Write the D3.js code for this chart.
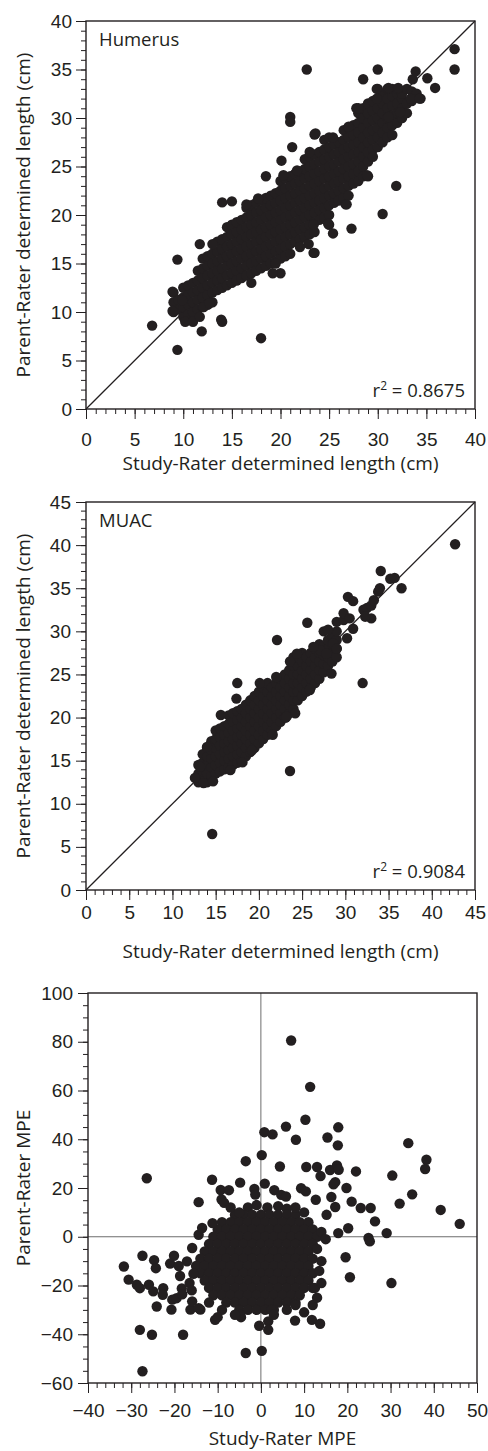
<!DOCTYPE html>
<html>
<head>
<meta charset="utf-8">
<script src="https://cdn.jsdelivr.net/npm/d3@7"></script>
<style>
  body { margin: 0; background: #fff; }
  svg { display: block; }
</style>
</head>
<body>
<div id="chart"></div>
<script>
// tick labels for each panel
const humerusTicks = [0, 5, 10, 15, 20, 25, 30, 35, 40];
const muacTicks = [0, 5, 10, 15, 20, 25, 30, 35, 40, 45];
const mpeXTicks = [-40, -30, -20, -10, 0, 10, 20, 30, 40, 50];
const mpeYTicks = [-60, -40, -20, 0, 20, 40, 60, 80, 100];

// Humerus: [study-rater, parent-rater] in cm
const humerusPoints = [
  [9,10],[9,11],[9,12],
  [9.5,10.25],[9.5,11.25],
  [10,9.5],[10,10.5],[10,11.5],[10,12.5],
  [10.5,9.75],[10.5,10.75],[10.5,11.75],[10.5,12.75],
  [11,10],[11,11],[11,12],[11,13],
  [11.5,10.25],[11.5,11.25],[11.5,12.25],[11.5,13.25],[11.5,14.25],
  [12,10.5],[12,11.5],[12,12.5],[12,13.5],[12,14.5],[12,15.5],
  [12.5,10.75],[12.5,11.75],[12.5,12.75],[12.5,13.75],[12.5,14.75],[12.5,15.75],
  [13,11],[13,12],[13,13],[13,14],[13,15],[13,16],
  [13.5,12.25],[13.5,13.25],[13.5,14.25],[13.5,15.25],[13.5,16.25],[13.5,17.25],
  [14,12.5],[14,13.5],[14,14.5],[14,15.5],[14,16.5],[14,17.5],
  [14.5,12.75],[14.5,13.75],[14.5,14.75],[14.5,15.75],[14.5,16.75],[14.5,17.75],[14.5,18.75],
  [15,13],[15,14],[15,15],[15,16],[15,17],[15,18],[15,19],
  [15.5,13.25],[15.5,14.25],[15.5,15.25],[15.5,16.25],[15.5,17.25],[15.5,18.25],[15.5,19.25],
  [16,13.5],[16,14.5],[16,15.5],[16,16.5],[16,17.5],[16,18.5],[16,19.5],
  [16.5,13.75],[16.5,14.75],[16.5,15.75],[16.5,16.75],[16.5,17.75],[16.5,18.75],[16.5,19.75],[16.5,20.75],
  [17,14],[17,15],[17,16],[17,17],[17,18],[17,19],[17,20],[17,21],
  [17.5,14.25],[17.5,15.25],[17.5,16.25],[17.5,17.25],[17.5,18.25],[17.5,19.25],[17.5,20.25],[17.5,21.25],
  [18,14.5],[18,15.5],[18,16.5],[18,17.5],[18,18.5],[18,19.5],[18,20.5],[18,21.5],
  [18.5,14.75],[18.5,15.75],[18.5,16.75],[18.5,17.75],[18.5,18.75],[18.5,19.75],[18.5,20.75],[18.5,21.75],
  [19,15],[19,16],[19,17],[19,18],[19,19],[19,20],[19,21],[19,22],
  [19.5,15.25],[19.5,16.25],[19.5,17.25],[19.5,18.25],[19.5,19.25],[19.5,20.25],[19.5,21.25],[19.5,22.25],
  [20,15.5],[20,16.5],[20,17.5],[20,18.5],[20,19.5],[20,20.5],[20,21.5],[20,22.5],[20,23.5],
  [20.5,15.75],[20.5,16.75],[20.5,17.75],[20.5,18.75],[20.5,19.75],[20.5,20.75],[20.5,21.75],[20.5,22.75],[20.5,23.75],
  [21,16],[21,17],[21,18],[21,19],[21,20],[21,21],[21,22],[21,23],[21,24],
  [21.5,17.25],[21.5,18.25],[21.5,19.25],[21.5,20.25],[21.5,21.25],[21.5,22.25],[21.5,23.25],[21.5,24.25],
  [22,17.5],[22,18.5],[22,19.5],[22,20.5],[22,21.5],[22,22.5],[22,23.5],[22,24.5],
  [22.5,17.75],[22.5,18.75],[22.5,19.75],[22.5,20.75],[22.5,21.75],[22.5,22.75],[22.5,23.75],[22.5,24.75],[22.5,25.75],
  [23,18],[23,19],[23,20],[23,21],[23,22],[23,23],[23,24],[23,25],[23,26],
  [23.5,18.25],[23.5,19.25],[23.5,20.25],[23.5,21.25],[23.5,22.25],[23.5,23.25],[23.5,24.25],[23.5,25.25],[23.5,26.25],
  [24,19.5],[24,20.5],[24,21.5],[24,22.5],[24,23.5],[24,24.5],[24,25.5],[24,26.5],
  [24.5,19.75],[24.5,20.75],[24.5,21.75],[24.5,22.75],[24.5,23.75],[24.5,24.75],[24.5,25.75],[24.5,26.75],[24.5,27.75],
  [25,20],[25,21],[25,22],[25,23],[25,24],[25,25],[25,26],[25,27],[25,28],
  [25.5,21.25],[25.5,22.25],[25.5,23.25],[25.5,24.25],[25.5,25.25],[25.5,26.25],[25.5,27.25],
  [26,21.5],[26,22.5],[26,23.5],[26,24.5],[26,25.5],[26,26.5],[26,27.5],
  [26.5,21.75],[26.5,22.75],[26.5,23.75],[26.5,24.75],[26.5,25.75],[26.5,26.75],[26.5,27.75],[26.5,28.75],
  [27,22],[27,23],[27,24],[27,25],[27,26],[27,27],[27,28],[27,29],
  [27.5,23.25],[27.5,24.25],[27.5,25.25],[27.5,26.25],[27.5,27.25],[27.5,28.25],[27.5,29.25],
  [28,23.5],[28,24.5],[28,25.5],[28,26.5],[28,27.5],[28,28.5],[28,29.5],[28,30.5],
  [28.5,24],[28.5,25],[28.5,26],[28.5,27],[28.5,28],[28.5,29],[28.5,30],[28.5,31],
  [29,25.5],[29,26.5],[29,27.5],[29,28.5],[29,29.5],[29,30.5],[29,31.5],
  [29.5,26.75],[29.5,27.75],[29.5,28.75],[29.5,29.75],[29.5,30.75],[29.5,31.75],
  [30,27],[30,28],[30,29],[30,30],[30,31],[30,32],[30,33],
  [30.5,27.5],[30.5,28.5],[30.5,29.5],[30.5,30.5],[30.5,31.5],[30.5,32.5],
  [31,28],[31,29],[31,30],[31,31],[31,32],[31,33],
  [31.5,28.25],[31.5,29.25],[31.5,30.25],[31.5,31.25],[31.5,32.25],[31.5,33],
  [32,29.5],[32,30.5],[32,31.5],[32,32.5],[32,33],
  [32.5,30],[32.5,31],[32.5,32],[32.5,32.5],
  [33,30.5],[33,31.5],[33,33],[33.5,31.75],[33.5,32.75],[34,32.5],
  // scattered ones
  [6.8,8.6],[9.4,6.1],[9.4,15.4],[11.9,8],[14,9],[18,7.3],[10.2,9],[11,9],[11.7,9.5],
  [13.9,9.2],[8.9,12.1],[8.9,10.1],[11.7,17],[13,17],[14,21.3],[16.5,21.1],[15,21.4],
  [17.7,21.7],[18.5,24],[20.1,25.6],[21,30.1],[21,29.6],[21.2,27],[22.7,35],[23.5,28.3],
  [25.4,28],[27.8,31],[28.5,34],[30,35],[29.9,33],[31.1,33.1],[32.1,33.1],[33.4,32],
  [33.6,34],[33.9,34.8],[34.4,32],[35.1,34.1],[35.9,33.1],[37.9,37.1],[37.9,35],
  [31.1,30.1],[32.3,30.6],[29.5,26],[29,24],[30.5,20.1],[31.9,23],[26.7,21.1],[23.4,19],
  [25,19],[25.4,18.1],[27.3,18.6],[23.4,16.1],[22.9,17],[20,14],[19.2,14],[19.5,15],
  [17,13],[22,16.7],[23.5,16.1],[12.1,10.5],[12.7,10.9],[9.9,11.2],[24.9,19.1],
  [26.8,21.1],[28.9,24.1],[34.3,32],[20.3,24.1],[21.7,24.6],[23,26.5],[23.6,28.4],
  [27,29.1],[28,31],[29.9,32]
];

// MUAC: [study-rater, parent-rater] in cm
const muacPoints = [
  [13,12.5],[13,13.5],[13,14.5],
  [13.5,12.75],[13.5,13.75],[13.5,14.75],[13.5,15.75],
  [14,12.5],[14,13.5],[14,14.5],[14,15.5],[14,16.5],
  [14.5,13.25],[14.5,14.25],[14.5,15.25],[14.5,16.25],[14.5,17.25],
  [15,13.5],[15,14.5],[15,15.5],[15,16.5],[15,17.5],[15,18.5],
  [15.5,13.75],[15.5,14.75],[15.5,15.75],[15.5,16.75],[15.5,17.75],[15.5,18.75],
  [16,14],[16,15],[16,16],[16,17],[16,18],[16,19],
  [16.5,14.25],[16.5,15.25],[16.5,16.25],[16.5,17.25],[16.5,18.25],[16.5,19.25],[16.5,20.25],
  [17,14.5],[17,15.5],[17,16.5],[17,17.5],[17,18.5],[17,19.5],[17,20.5],
  [17.5,14.75],[17.5,15.75],[17.5,16.75],[17.5,17.75],[17.5,18.75],[17.5,19.75],[17.5,20.75],
  [18,15],[18,16],[18,17],[18,18],[18,19],[18,20],[18,21],
  [18.5,15.5],[18.5,16.5],[18.5,17.5],[18.5,18.5],[18.5,19.5],[18.5,20.5],[18.5,21.5],
  [19,16],[19,17],[19,18],[19,19],[19,20],[19,21],[19,22],
  [19.5,16.5],[19.5,17.5],[19.5,18.5],[19.5,19.5],[19.5,20.5],[19.5,21.5],[19.5,22.5],
  [20,17],[20,18],[20,19],[20,20],[20,21],[20,22],[20,23],
  [20.5,17.5],[20.5,18.5],[20.5,19.5],[20.5,20.5],[20.5,21.5],[20.5,22.5],[20.5,23.5],
  [21,18],[21,19],[21,20],[21,21],[21,22],[21,23],[21,24],
  [21.5,18.5],[21.5,19.5],[21.5,20.5],[21.5,21.5],[21.5,22.5],[21.5,23.5],
  [22,19],[22,20],[22,21],[22,22],[22,23],[22,24],
  [22.5,19.5],[22.5,20.5],[22.5,21.5],[22.5,22.5],[22.5,23.5],[22.5,24.5],
  [23,20],[23,21],[23,22],[23,23],[23,24],[23,25],
  [23.5,20.5],[23.5,21.5],[23.5,22.5],[23.5,23.5],[23.5,24.5],[23.5,25.5],
  [24,21],[24,22],[24,23],[24,24],[24,25],[24,26],[24,27],
  [24.5,22],[24.5,23],[24.5,24],[24.5,25],[24.5,26],[24.5,27],
  [25,22.5],[25,23.5],[25,24.5],[25,25.5],[25,26.5],[25,27.5],
  [25.5,23],[25.5,24],[25.5,25],[25.5,26],[25.5,27],
  [26,23.5],[26,24.5],[26,25.5],[26,26.5],[26,27.5],
  [26.5,24],[26.5,25],[26.5,26],[26.5,27],[26.5,28],
  [27,24.5],[27,25.5],[27,26.5],[27,27.5],[27,28.5],
  [27.5,25.25],[27.5,26.25],[27.5,27.25],[27.5,28.25],
  [28,26],[28,27],[28,28],[28,29],
  [28.5,26.5],[28.5,27.5],[28.5,28.5],[28.5,29.5],
  [29,27],[29,28],[29,29],[29,30],
  // scattered ones
  [12.6,13],[13.6,12.4],[14.7,12.6],[14.6,6.5],[23.6,13.8],[21.6,18],[23.1,20],[24.2,20.5],
  [19.2,16.2],[16.7,13.9],[18.1,14.8],[15.6,20.3],[17.5,24],[22.1,29],[25.6,31],[28.4,25.1],
  [32,24],[23.6,26.5],[27.1,27.8],[27.8,27.4],[28.6,28.6],[29,28],[30.2,29.2],[27.5,30],
  [28,30.2],[29,31.1],[29.8,31.3],[29.8,32.1],[30.5,31.5],[30.9,30.3],[30.3,34],[30.9,33.5],
  [32.1,32.5],[32.5,32.7],[33,33],[33.3,33.6],[33,31.5],[32.3,31.7],[33.8,34.6],[34,35],
  [34.1,37],[35.2,36.1],[35.7,36.2],[36.5,35],[42.7,40.1],[20.1,24],[22,24.7],[24.4,27.4],
  [26.3,28.2],[25.9,23.2],[23.2,20.1],[17.4,22.2],[13.2,14.3],[14,16.6]
];

// MPE: [study-rater, parent-rater]
const mpePoints = [
  [-3,12],[-1,13],[1.5,12],[4,12.5],[6,11.5],
  [-6,9],[-4,9],[-2,9],[0,9],[2,9],[4,9],[6,9],[8,9],
  [-9,6],[-7,6],[-5,6],[-3,6],[-1,6],[1,6],[3,6],[5,6],[7,6],[9,6],[11,6],
  [-10,3],[-8,3],[-6,3],[-4,3],[-2,3],[0,3],[2,3],[4,3],[6,3],[8,3],[10,3],[12,3],
  [-11,0],[-9,0],[-7,0],[-5,0],[-3,0],[-1,0],[1,0],[3,0],[5,0],[7,0],[9,0],[11,0],[13,0],
  [-12,-3],[-10,-3],[-8,-3],[-6,-3],[-4,-3],[-2,-3],[0,-3],[2,-3],[4,-3],[6,-3],[8,-3],[10,-3],[12,-3],
  [-13,-6],[-11,-6],[-9,-6],[-7,-6],[-5,-6],[-3,-6],[-1,-6],[1,-6],[3,-6],[5,-6],[7,-6],[9,-6],[11,-6],
  [-14,-9],[-12,-9],[-10,-9],[-8,-9],[-6,-9],[-4,-9],[-2,-9],[0,-9],[2,-9],[4,-9],[6,-9],[8,-9],[10,-9],[12,-9],
  [-15,-12],[-13,-12],[-11,-12],[-9,-12],[-7,-12],[-5,-12],[-3,-12],[-1,-12],[1,-12],[3,-12],[5,-12],[7,-12],[9,-12],[11,-12],
  [-14,-15],[-12,-15],[-10,-15],[-8,-15],[-6,-15],[-4,-15],[-2,-15],[0,-15],[2,-15],[4,-15],[6,-15],[8,-15],[10,-15],[12,-15],
  [-13,-18],[-11,-18],[-9,-18],[-7,-18],[-5,-18],[-3,-18],[-1,-18],[1,-18],[3,-18],[5,-18],[7,-18],[9,-18],[11,-18],
  [-12,-21],[-10,-21],[-8,-21],[-6,-21],[-4,-21],[-2,-21],[0,-21],[2,-21],[4,-21],[6,-21],[8,-21],[10,-21],[12,-21],
  [-11,-24],[-9,-24],[-7,-24],[-5,-24],[-3,-24],[-1,-24],[1,-24],[3,-24],[5,-24],[7,-24],[9,-24],
  [-8,-27],[-6,-27],[-4,-27],[-2,-27],[0,-27],[2,-27],[4,-27],[6,-27],[8,-27],
  [-5,-30],[-3,-30],[-1,-30],[1,-30],[3,-30],
  // scattered ones
  [7,80.5],[11.4,61.5],[10.3,48],[5.8,45.2],[8.1,39.8],[0.8,42.9],[2.7,42],[15.4,40.7],
  [17.9,44.9],[17.8,37.5],[34.1,38.4],[38.3,31.6],[38,27.8],[0.2,33.5],[-3.5,31],[4.4,28.8],
  [10.5,28.6],[13,28.6],[13.8,24.9],[16,27.4],[17.6,29.3],[18,27.5],[22,26.8],[30.4,25.1],
  [35,17.4],[32.1,13.6],[41.6,11],[46,5.3],[-26.4,24],[-11.3,23.4],[-4.8,22.2],[-14.4,14.2],
  [-9.3,19.2],[-7.4,19.1],[-9.1,15.3],[-8.5,13.9],[-1.5,19.6],[-1.3,17.3],[0.9,21.8],[3.1,19.1],
  [4.7,17.2],[5.8,16.5],[9.3,19.9],[10.4,18.6],[12.7,15.2],[16.3,16.3],[17.2,22.4],[16.8,21.5],
  [19.8,20],[21,14.4],[23.1,11.8],[25.4,11.8],[17.2,12.2],[15.2,9],[26.4,6.3],[29.1,1.5],
  [20.2,3.5],[17.9,1.5],[24.9,-0.5],[25.2,-1.9],[19.6,-8.4],[20.6,-16.6],[30.2,-19],
  [13.7,-35.7],[11.8,-34.1],[7.9,-34.4],[1.7,-34.7],[1.7,-38.2],[-0.4,-36.5],[0.2,-46.8],
  [-3.5,-47.7],[-4.6,-33],[-4.8,-32],[-10.6,-34.1],[-16.3,-29.9],[-14,-29.9],[-18,-40.2],
  [-20.5,-25.8],[-19.5,-25.2],[-20.7,-29.9],[-18.3,-21.2],[-18.2,-23.6],[-18.7,-16.1],
  [-17.1,-10.1],[-20.1,-7.8],[-24.7,-9.6],[-24.3,-12.9],[-25.9,-19.7],[-24.9,-22.4],
  [-22.6,-21.1],[-22.7,-23.8],[-24.1,-28.6],[-27.4,-7.8],[-28.7,-19.7],[-28,-21.1],
  [-30.6,-17.6],[-31.7,-12.2],[-28,-38.2],[-25.2,-40.2],[-27.4,-55.2],[-15.9,-4.6],
  [-14.4,0.8],[-13.6,3.6],[-11.2,5.6],[-15.6,-15.2],[-15.9,-26.5],[-14.4,-29.3],[-21,-11],
  [-19,-12],[-16.5,-19],[-16,-22],[2.5,-30],[3,-32],[6,-30],[8,-28],[10,-31],[12,-28],
  [13,-25],[12.5,-21],[14,-19],[13.5,-14],[14,-10],[13,-5],[14,2],[15,-1],[-7,12],[-5,10],
  [10,10],[8,12],[-6,-32],[-9,-30],[-12,-27],[-10,-33]
];

const ink = '#231f20';
const tickFont = 'Liberation Sans, Arial, sans-serif';
const textFont = 'Open Sans, Noto Sans, sans-serif';

let svg = d3.select('#chart')
  .append('svg')
  .attr('width', 488)
  .attr('height', 1451)
  .style('background-color', '#fff');

// one scatter panel
function drawPanel(c) {
  let x = d3.scaleLinear().domain(c.xDomain).range([c.left, c.right]);
  let y = d3.scaleLinear().domain(c.yDomain).range([c.bottom, c.top]);
  let g = svg.append('g');

  // minor ticks
  g.append('g')
    .attr('transform', `translate(0,${c.bottom})`)
    .call(d3.axisBottom(x).tickValues(c.xMinor).tickSize(5).tickFormat(''))
    .call(a => a.select('.domain').remove());
  g.append('g')
    .attr('transform', `translate(${c.left},0)`)
    .call(d3.axisLeft(y).tickValues(c.yMinor).tickSize(5).tickFormat(''))
    .call(a => a.select('.domain').remove());

  // major ticks with labels
  g.append('g')
    .attr('transform', `translate(0,${c.bottom})`)
    .call(d3.axisBottom(x).tickValues(c.xTicks).tickSize(10).tickPadding(c.xPad))
    .call(a => a.select('.domain').remove())
    .attr('font-family', tickFont)
    .attr('font-size', 19);
  g.append('g')
    .attr('transform', `translate(${c.left},0)`)
    .call(d3.axisLeft(y).tickValues(c.yTicks).tickSize(10).tickPadding(c.yPad))
    .call(a => a.select('.domain').remove())
    .attr('font-family', tickFont)
    .attr('font-size', 19);

  g.selectAll('.tick line').attr('stroke', ink).attr('stroke-width', 1);
  g.selectAll('.tick text').attr('fill', ink);

  // reference lines
  if (c.diagonal) {
    let m = c.xDomain[1];
    g.append('line')
      .attr('x1', x(0)).attr('y1', y(0))
      .attr('x2', x(m)).attr('y2', y(m))
      .attr('stroke', ink).attr('stroke-width', 1.3);
  }
  if (c.zeroLines) {
    g.append('line')
      .attr('x1', x(0)).attr('x2', x(0))
      .attr('y1', c.top).attr('y2', c.bottom)
      .attr('stroke', '#6d6d6d').attr('stroke-width', 1);
    g.append('line')
      .attr('x1', c.left).attr('x2', c.right)
      .attr('y1', y(0)).attr('y2', y(0))
      .attr('stroke', '#6d6d6d').attr('stroke-width', 1);
  }

  // dots
  g.selectAll('circle')
    .data(c.points)
    .enter()
    .append('circle')
    .attr('cx', d => x(d[0]))
    .attr('cy', d => y(d[1]))
    .attr('r', 5.2)
    .attr('fill', ink);

  // frame
  g.append('rect')
    .attr('x', c.left).attr('y', c.top)
    .attr('width', c.right - c.left)
    .attr('height', c.bottom - c.top)
    .attr('fill', 'none')
    .attr('stroke', ink)
    .attr('stroke-width', 1.4);

  // panel name
  if (c.name) {
    g.append('text')
      .attr('x', c.left + 13)
      .attr('y', c.top + 25)
      .attr('font-family', textFont)
      .attr('font-size', 18.5)
      .attr('fill', ink)
      .text(c.name);
  }

  // r squared
  if (c.r2) {
    let t = g.append('text')
      .attr('x', c.right - 10)
      .attr('y', c.bottom - 12)
      .attr('text-anchor', 'end')
      .attr('font-family', textFont)
      .attr('font-size', 18.5)
      .attr('fill', ink);
    t.append('tspan').text('r');
    t.append('tspan').attr('dy', -7).attr('font-size', 12).text('2');
    t.append('tspan').attr('dy', 7).text(' = ' + c.r2);
  }

  // axis titles
  g.append('text')
    .attr('x', (c.left + c.right) / 2)
    .attr('y', c.xTitleY)
    .attr('text-anchor', 'middle')
    .attr('font-family', textFont)
    .attr('font-size', 19)
    .attr('fill', ink)
    .text(c.xTitle);
  g.append('text')
    .attr('transform', `translate(30,${(c.top + c.bottom) / 2}) rotate(-90)`)
    .attr('text-anchor', 'middle')
    .attr('font-family', textFont)
    .attr('font-size', 19)
    .attr('fill', ink)
    .text(c.yTitle);
}

drawPanel({
  left: 86, right: 475, top: 21, bottom: 409,
  xDomain: [0, 40], yDomain: [0, 40],
  xTicks: humerusTicks, yTicks: humerusTicks,
  xMinor: d3.range(0, 41, 1), yMinor: d3.range(0, 41, 1),
  xPad: 13.5, yPad: 4,
  points: humerusPoints, diagonal: true,
  name: 'Humerus', r2: '0.8675',
  xTitle: 'Study-Rater determined length (cm)', xTitleY: 470,
  yTitle: 'Parent-Rater determined length (cm)'
});

drawPanel({
  left: 86, right: 475, top: 502, bottom: 890,
  xDomain: [0, 45], yDomain: [0, 45],
  xTicks: muacTicks, yTicks: muacTicks,
  xMinor: d3.range(0, 46, 1), yMinor: d3.range(0, 46, 1),
  xPad: 6, yPad: 5,
  points: muacPoints, diagonal: true,
  name: 'MUAC', r2: '0.9084',
  xTitle: 'Study-Rater determined length (cm)', xTitleY: 958,
  yTitle: 'Parent-Rater determined length (cm)'
});

drawPanel({
  left: 88, right: 477, top: 993, bottom: 1383,
  xDomain: [-40, 50], yDomain: [-60, 100],
  xTicks: mpeXTicks, yTicks: mpeYTicks,
  xMinor: d3.range(-40, 51, 2), yMinor: d3.range(-60, 101, 5),
  xPad: 10.5, yPad: 5,
  points: mpePoints, zeroLines: true,
  xTitle: 'Study-Rater MPE', xTitleY: 1445,
  yTitle: 'Parent-Rater MPE'
});
</script>
</body>
</html>
